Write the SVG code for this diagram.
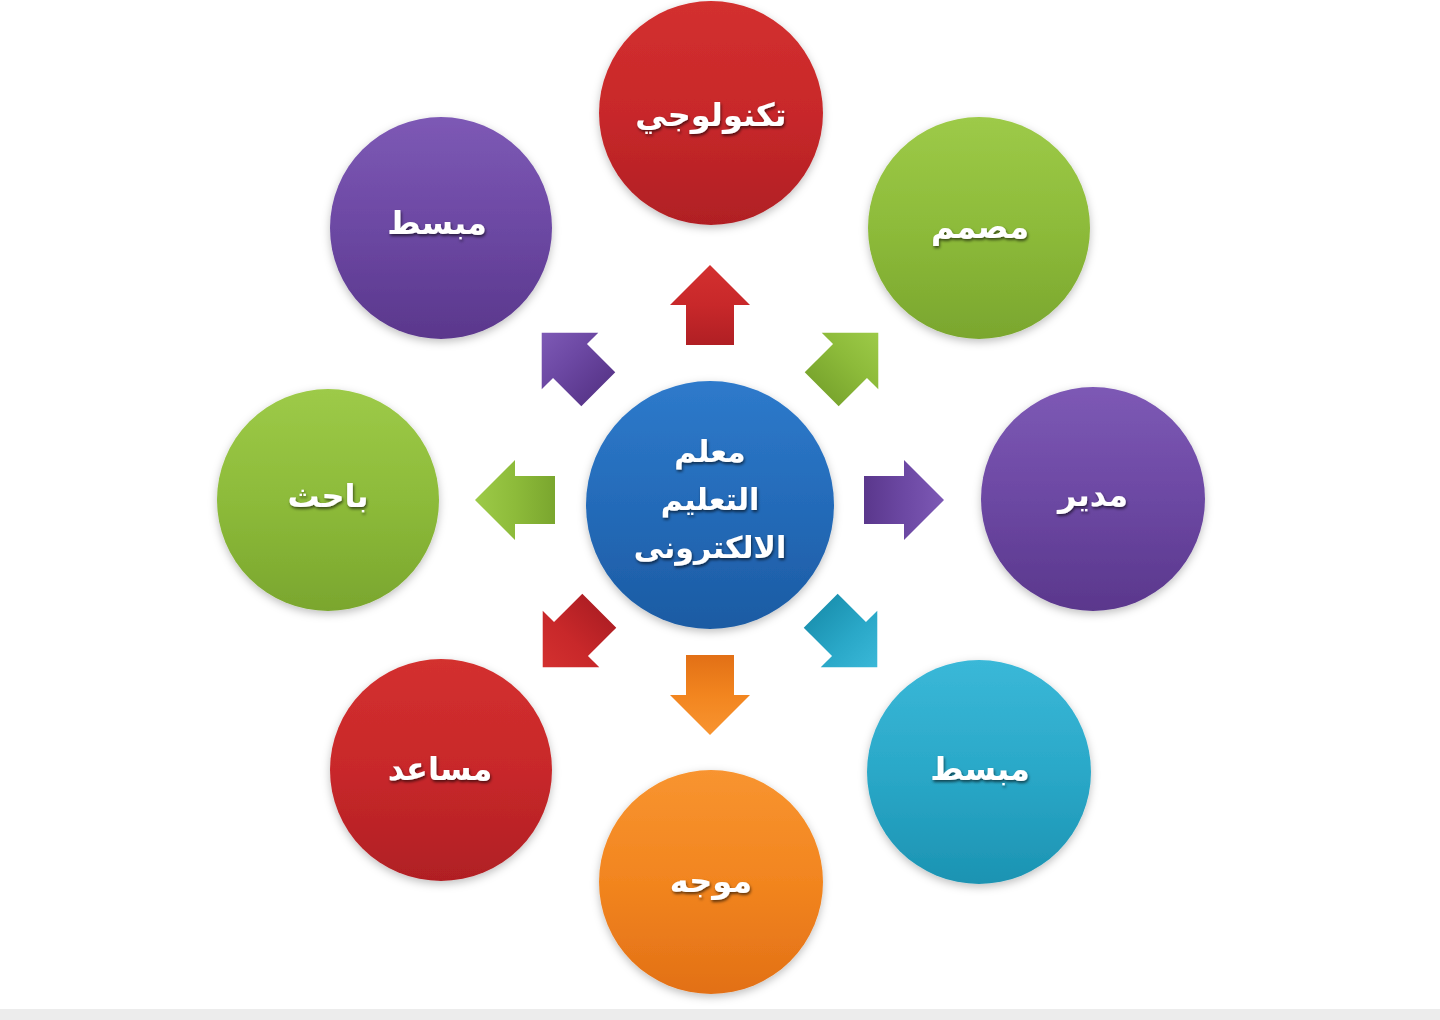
<svg xmlns="http://www.w3.org/2000/svg" width="1440" height="1020" viewBox="0 0 1440 1020">
<defs>
<linearGradient id="gRed" x1="0" y1="0" x2="0" y2="1"><stop offset="0" stop-color="#d3302f"/><stop offset="0.5" stop-color="#c8282a"/><stop offset="1" stop-color="#b01f24"/></linearGradient>
<linearGradient id="gGreen" x1="0" y1="0" x2="0" y2="1"><stop offset="0" stop-color="#9dca48"/><stop offset="0.5" stop-color="#8dbb3a"/><stop offset="1" stop-color="#7aa62e"/></linearGradient>
<linearGradient id="gPurple" x1="0" y1="0" x2="0" y2="1"><stop offset="0" stop-color="#7d59b5"/><stop offset="0.5" stop-color="#6c48a3"/><stop offset="1" stop-color="#5a378c"/></linearGradient>
<linearGradient id="gCyan" x1="0" y1="0" x2="0" y2="1"><stop offset="0" stop-color="#3ab8d8"/><stop offset="0.5" stop-color="#2aa8c8"/><stop offset="1" stop-color="#1c93b2"/></linearGradient>
<linearGradient id="gOrange" x1="0" y1="0" x2="0" y2="1"><stop offset="0" stop-color="#f89430"/><stop offset="0.5" stop-color="#f2851f"/><stop offset="1" stop-color="#e27016"/></linearGradient>
<linearGradient id="gBlue" x1="0" y1="0" x2="0" y2="1"><stop offset="0" stop-color="#2e7acb"/><stop offset="0.5" stop-color="#246bb9"/><stop offset="1" stop-color="#1c5ba3"/></linearGradient>
<filter id="sh" x="-20%" y="-20%" width="140%" height="140%"><feDropShadow dx="0" dy="3" stdDeviation="4" flood-color="#000" flood-opacity="0.25"/></filter>
<filter id="ts" x="-20%" y="-30%" width="140%" height="160%"><feDropShadow dx="1" dy="2" stdDeviation="1.5" flood-color="#000" flood-opacity="0.6"/></filter>
<polygon id="arr" points="0,-40 40,0 24,0 24,40 -24,40 -24,0 -40,0"/>
</defs>
<style>
.lbl{font-family:"DejaVu Sans",sans-serif;font-weight:bold;fill:#ffffff;text-anchor:middle;filter:url(#ts)}
.c{filter:url(#sh)}
</style>
<rect width="1440" height="1020" fill="#ffffff"/>
<rect x="0" y="1009" width="1440" height="11" fill="#ececec"/>

<g id="connectors">
<use href="#arr" fill="url(#gRed)" transform="translate(710,305) rotate(0)"/>
<use href="#arr" fill="url(#gGreen)" transform="translate(850,361) rotate(45)"/>
<use href="#arr" fill="url(#gPurple)" transform="translate(904,500) rotate(90)"/>
<use href="#arr" fill="url(#gCyan)" transform="translate(849,639) rotate(135)"/>
<use href="#arr" fill="url(#gOrange)" transform="translate(710,695) rotate(180)"/>
<use href="#arr" fill="url(#gRed)" transform="translate(571,639) rotate(225)"/>
<use href="#arr" fill="url(#gGreen)" transform="translate(515,500) rotate(270)"/>
<use href="#arr" fill="url(#gPurple)" transform="translate(570,361) rotate(315)"/>
</g>

<g id="center">
<circle class="c" cx="710" cy="505" r="124" fill="url(#gBlue)"/>
<text class="lbl" x="710" y="462" font-size="30">معلم</text>
<text class="lbl" x="710" y="510" font-size="30">التعليم</text>
<text class="lbl" x="710" y="558" font-size="30">الالكترونى</text>
</g>
<g id="n-top">
<circle class="c" cx="711" cy="113" r="112" fill="url(#gRed)"/>
<text class="lbl" x="711" y="126" font-size="32">تكنولوجي</text>
</g>
<g id="n-topright">
<circle class="c" cx="979" cy="228" r="111" fill="url(#gGreen)"/>
<text class="lbl" x="980" y="238" font-size="32">مصمم</text>
</g>
<g id="n-right">
<circle class="c" cx="1093" cy="499" r="112" fill="url(#gPurple)"/>
<text class="lbl" x="1093" y="506" font-size="32">مدير</text>
</g>
<g id="n-bottomright">
<circle class="c" cx="979" cy="772" r="112" fill="url(#gCyan)"/>
<text class="lbl" x="980" y="780" font-size="32">مبسط</text>
</g>
<g id="n-bottom">
<circle class="c" cx="711" cy="882" r="112" fill="url(#gOrange)"/>
<text class="lbl" x="711" y="892" font-size="32">موجه</text>
</g>
<g id="n-bottomleft">
<circle class="c" cx="441" cy="770" r="111" fill="url(#gRed)"/>
<text class="lbl" x="440" y="780" font-size="32">مساعد</text>
</g>
<g id="n-left">
<circle class="c" cx="328" cy="500" r="111" fill="url(#gGreen)"/>
<text class="lbl" x="328" y="507" font-size="32">باحث</text>
</g>
<g id="n-topleft">
<circle class="c" cx="441" cy="228" r="111" fill="url(#gPurple)"/>
<text class="lbl" x="437" y="234" font-size="32">مبسط</text>
</g>
</svg>
